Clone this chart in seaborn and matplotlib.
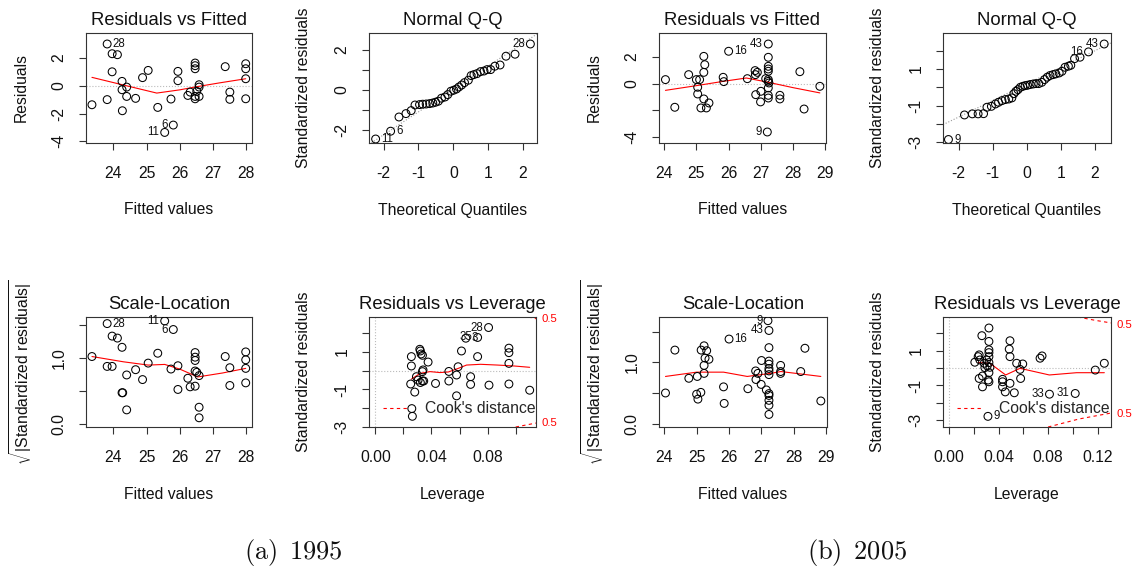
import matplotlib
matplotlib.use("Agg")
import matplotlib.pyplot as plt
import matplotlib.transforms as mtransforms
from matplotlib.lines import Line2D
import seaborn as sns

# ---------------- 1995 model ----------------
# Residuals vs Fitted
rf95_fitted = [23.35, 23.81, 23.81, 23.96, 23.96, 24.12, 24.26, 24.26, 24.27, 24.40, 24.40, 24.67, 24.88,
               25.05, 25.34, 25.55, 25.81, 25.74, 25.95, 25.95, 26.25, 26.32, 26.47, 26.47, 26.47, 26.47,
               26.47, 26.52, 26.59, 26.59, 26.59, 27.38, 27.52, 27.52, 28.00, 28.00, 28.00, 28.00]
rf95_resid = [-1.37, 3.00, -1.00, 2.30, 1.00, 2.23, 0.31, -0.29, -1.80, -0.10, -0.77, -0.91, 0.58,
              1.10, -1.56, -3.36, -2.83, -0.96, 1.03, 0.36, -0.70, -0.46, 1.63, 1.44, 1.22, -0.77,
              -0.94, -0.40, 0.07, -0.10, -0.77, 1.37, -0.46, -0.98, 1.58, 1.22, 0.50, -0.94]
rf95_smooth_x = [23.35, 24.3, 25.31, 26.0, 26.5, 27.2, 28.0]
rf95_smooth_y = [0.60, 0.05, -0.53, -0.30, -0.08, 0.20, 0.50]
rf95_labels = [("28", 23.81, 3.00, "r"), ("6", 25.81, -2.83, "l"), ("11", 25.55, -3.36, "l")]

# Normal Q-Q
qq95_theo = [-2.23, -1.80, -1.56, -1.36, -1.21, -1.10, -0.97, -0.88, -0.78, -0.68, -0.59, -0.51, -0.43,
             -0.34, -0.24, -0.16, -0.07, 0.01, 0.09, 0.16, 0.24, 0.32, 0.43, 0.51, 0.59, 0.68, 0.78,
             0.88, 0.97, 1.07, 1.19, 1.34, 1.51, 1.77, 2.21]
qq95_std = [-2.47, -2.08, -1.37, -1.20, -1.05, -0.77, -0.75, -0.73, -0.72, -0.70, -0.67, -0.63, -0.58,
            -0.43, -0.37, -0.25, -0.08, -0.03, 0.03, 0.13, 0.23, 0.35, 0.47, 0.70, 0.75, 0.80, 0.90,
            0.93, 1.00, 1.00, 1.17, 1.23, 1.67, 1.77, 2.28]
qq95_line_x = [-2.42, 2.40]
qq95_line_y = [-2.74, 2.78]
qq95_labels = [("11", -2.23, -2.47, "r"), ("6", -1.80, -2.08, "r"), ("28", 2.21, 2.28, "l")]

# Scale-Location
sl95_fitted = [23.35, 23.81, 23.81, 23.96, 23.96, 24.12, 24.26, 24.26, 24.28, 24.40, 24.40, 24.67, 24.88,
               25.05, 25.34, 25.55, 25.81, 25.74, 25.95, 25.95, 26.25, 26.32, 26.47, 26.47, 26.47, 26.47,
               26.47, 26.52, 26.59, 26.59, 26.59, 27.38, 27.52, 27.52, 28.00, 28.00, 28.00, 28.00]
sl95_sqrt = [1.02, 1.52, 0.87, 1.33, 0.87, 1.30, 1.16, 0.47, 0.47, 0.74, 0.21, 0.82, 0.67,
             0.92, 1.07, 1.56, 1.43, 0.83, 0.88, 0.52, 0.69, 0.56, 1.08, 1.01, 0.96, 0.80,
             0.57, 0.78, 0.73, 0.25, 0.09, 1.02, 0.85, 0.58, 1.09, 0.97, 0.84, 0.62]
sl95_smooth_x = [23.35, 24.3, 25.05, 25.55, 26.0, 26.55, 27.3, 28.0]
sl95_smooth_y = [1.02, 0.94, 0.89, 0.90, 0.83, 0.71, 0.77, 0.84]
sl95_labels = [("28", 23.81, 1.52, "r"), ("11", 25.55, 1.56, "l"), ("6", 25.81, 1.43, "l")]

# Residuals vs Leverage
rl95_lev = [0.0257, 0.0257, 0.0252, 0.0260, 0.0264, 0.0281, 0.0293, 0.0305, 0.0317, 0.0321, 0.0326,
            0.0336, 0.0321, 0.0336, 0.0340, 0.0345, 0.0336, 0.0376, 0.0429, 0.0524, 0.0524, 0.0579,
            0.0579, 0.0590, 0.0614, 0.0645, 0.0679, 0.0679, 0.0729, 0.0729, 0.0807, 0.0810, 0.0952,
            0.0952, 0.0952, 0.0952, 0.1100]
rl95_std = [0.75, 0.25, -0.71, -2.02, -2.43, -1.14, -0.32, -0.50, 1.14, 1.05, 0.89,
            0.82, -0.63, -0.55, 0.04, -0.55, -0.05, 0.46, -0.68, -0.04, -0.55, -0.23,
            -1.34, 0.21, 1.05, 1.73, -0.32, -0.73, 1.77, 0.75, 2.30, -0.77, 1.20,
            0.96, 0.39, -0.71, -1.04]
rl95_smooth_x = [0.0257, 0.0320, 0.0390, 0.0460, 0.0520, 0.0590, 0.0650, 0.0750, 0.0870, 0.0990, 0.1100]
rl95_smooth_y = [-0.45, -0.14, -0.05, -0.10, -0.07, 0.12, 0.30, 0.34, 0.30, 0.25, 0.18]
rl95_cook_top_x = [0.109, 0.1145]
rl95_cook_top_y = [2.86, 2.77]
rl95_cook_bot_x = [0.100, 0.1145]
rl95_cook_bot_y = [-3.00, -2.79]
rl95_cook_text_y = [2.77, -2.79]
rl95_labels = [("28", 0.0807, 2.30, "l"), ("35", 0.0729, 1.77, "l"), ("3", 0.0645, 1.73, "r")]

# ---------------- 2005 model ----------------
rf05_fitted = [24.04, 24.33, 24.76, 25.00, 25.10, 25.04, 25.04, 25.14, 25.23, 25.26, 25.23, 25.23,
               25.31, 25.39, 25.83, 25.85, 26.00, 26.58, 26.82, 26.89, 26.83, 26.84, 27.00, 26.99,
               27.15, 27.23, 27.23, 27.23, 27.23, 27.23, 27.23, 27.23, 27.25, 27.23, 27.23, 27.23,
               27.20, 27.59, 27.59, 28.21, 28.34, 28.83]
rf05_resid = [0.30, -1.76, 0.67, 0.30, 0.30, -0.27, -0.77, -1.81, 2.03, 1.41, 0.84, -1.14,
              -1.81, -1.44, 0.47, 0.15, 2.41, 0.37, 0.97, 0.84, 0.67, -0.82, -0.57, -1.36,
              0.37, 2.95, 1.96, 1.29, 1.09, 0.92, 0.30, 0.17, 0.05, -0.32, -0.87, -1.07,
              -3.60, -0.87, -1.14, 0.89, -1.89, -0.20]
rf05_smooth_x = [24.04, 25.0, 25.83, 26.55, 27.23, 28.0, 28.83]
rf05_smooth_y = [-0.50, -0.15, 0.17, 0.42, 0.10, -0.30, -0.69]
rf05_labels = [("16", 26.00, 2.41, "r"), ("43", 27.23, 2.95, "l"), ("9", 27.20, -3.60, "l")]

qq05_theo = [-2.30, -1.83, -1.60, -1.43, -1.27, -1.17, -1.04, -0.92, -0.83, -0.73, -0.63, -0.53, -0.44,
             -0.38, -0.32, -0.26, -0.19, -0.12, -0.05, 0.02, 0.10, 0.19, 0.27, 0.35, 0.44, 0.52,
             0.60, 0.68, 0.77, 0.85, 0.95, 1.03, 1.12, 1.22, 1.29, 1.40, 1.56, 1.81, 2.27]
qq05_std = [-2.85, -1.51, -1.45, -1.45, -1.44, -1.09, -1.04, -0.91, -0.82, -0.73, -0.67, -0.64, -0.58,
            -0.35, -0.22, -0.13, 0.00, 0.05, 0.09, 0.11, 0.15, 0.18, 0.20, 0.20, 0.27, 0.42,
            0.55, 0.64, 0.69, 0.73, 0.78, 0.87, 1.09, 1.15, 1.20, 1.56, 1.64, 1.93, 2.36]
qq05_line_x = [-2.46, 2.47]
qq05_line_y = [-2.04, 2.42]
qq05_labels = [("9", -2.30, -2.85, "r"), ("16", 1.81, 1.93, "l"), ("43", 2.27, 2.36, "l")]

sl05_fitted = [24.04, 24.33, 24.76, 25.02, 25.00, 25.04, 25.13, 25.14, 25.23, 25.31, 25.26, 25.38,
               25.23, 25.23, 25.83, 25.85, 26.00, 26.58, 26.82, 26.83, 26.89, 27.00, 26.99, 27.15,
               27.20, 27.23, 27.23, 27.23, 27.23, 27.23, 27.23, 27.23, 27.23, 27.23, 27.23, 27.23,
               27.23, 27.59, 27.59, 27.59, 28.21, 28.34, 28.83]
sl05_sqrt = [0.50, 1.20, 0.74, 0.77, 0.48, 0.40, 0.51, 1.20, 1.27, 1.19, 1.07, 1.05,
             0.95, 0.82, 0.60, 0.33, 1.38, 0.57, 0.86, 0.72, 0.82, 1.03, 0.64, 0.55,
             1.68, 1.52, 1.24, 1.02, 0.97, 0.90, 0.86, 0.80, 0.49, 0.46, 0.38, 0.30,
             0.15, 0.95, 0.85, 0.82, 0.85, 1.23, 0.37]
sl05_smooth_x = [24.04, 25.0, 25.83, 26.56, 27.28, 27.6, 28.83]
sl05_smooth_y = [0.77, 0.84, 0.84, 0.77, 0.82, 0.85, 0.77]
sl05_labels = [("9", 27.20, 1.68, "l"), ("43", 27.23, 1.52, "l"), ("16", 26.00, 1.38, "r")]

rl05_lev = [0.0208, 0.0235, 0.0243, 0.0249, 0.0243, 0.0265, 0.0270, 0.0270, 0.0284, 0.0289, 0.0303,
            0.0308, 0.0316, 0.0322, 0.0322, 0.0322, 0.0322, 0.0322, 0.0322, 0.0330, 0.0322, 0.0322,
            0.0314, 0.0432, 0.0432, 0.0432, 0.0454, 0.0492, 0.0486, 0.0492, 0.0492, 0.0527, 0.0546,
            0.0573, 0.0578, 0.0595, 0.0735, 0.0751, 0.0811, 0.1019, 0.1181, 0.1254]
rl05_std = [0.33, 0.65, 0.75, 0.46, -0.60, 1.85, -0.46, -1.08, 0.27, 0.02, 0.46,
            0.12, -0.69, 2.29, 1.52, 1.04, 0.88, 0.65, 0.31, 0.04, -0.27, -0.79,
            -2.77, -0.65, -0.79, -1.08, -1.37, 1.56, 1.08, 0.65, -0.88, -1.42, 0.27,
            -0.08, -0.60, 0.23, 0.56, 0.69, -1.50, -1.46, -0.12, 0.27]
rl05_smooth_x = [0.0235, 0.0330, 0.0457, 0.0573, 0.0810, 0.1030, 0.1254]
rl05_smooth_y = [0.31, 0.27, -0.40, -0.02, -0.40, -0.27, -0.27]
rl05_cook_top_x = [0.104, 0.118, 0.1308]
rl05_cook_top_y = [2.92, 2.73, 2.58]
rl05_cook_bot_x = [0.080, 0.105, 0.1308]
rl05_cook_bot_y = [-3.38, -2.92, -2.58]
rl05_cook_text_y = [2.48, -2.62]
rl05_labels = [("9", 0.0314, -2.77, "r"), ("33", 0.0811, -1.50, "l"), ("31", 0.1019, -1.46, "l")]

# ---------------- styling ----------------
sns.set_theme(style="ticks")
plt.rcParams["font.family"] = ["Liberation Sans", "DejaVu Sans"]
plt.rcParams["mathtext.fontset"] = "custom"
plt.rcParams["mathtext.rm"] = "Liberation Sans"
plt.rcParams["mathtext.it"] = "Liberation Sans:italic"

FW, FH = 1134, 579
EDGE = "#333333"
GREY = "#BBBBBB"
SQRT_LABEL = r"$\sqrt{|\mathrm{Standardized\ residuals}|}$"

fig = plt.figure(figsize=(FW / 100, FH / 100), dpi=100)


def make_ax(x0, y0, x1, y1):
    return fig.add_axes([x0 / FW, 1 - y1 / FH, (x1 - x0) / FW, (y1 - y0) / FH])


def dress(ax, xlim, ylim, xt, xtl, yt, ytl, title, xlabel, ylabel):
    ax.set_xlim(xlim)
    ax.set_ylim(ylim)
    ax.set_xticks(xt, xtl)
    ax.set_yticks(yt, ytl)
    ax.tick_params(direction="out", length=5, width=0.8, color=EDGE, labelsize=11.3,
                   labelcolor="#111111")
    ax.tick_params(axis="x", pad=11.5)
    ax.tick_params(axis="y", pad=9, labelrotation=90)
    for lab in ax.get_yticklabels():
        lab.set_va("center")
    for sp in ax.spines.values():
        sp.set_visible(True)
        sp.set_color(EDGE)
        sp.set_linewidth(0.8)
    ax.set_title(title, fontsize=13.3, y=1.075, pad=0, va="baseline", color="#111111")
    ax.set_xlabel(xlabel, fontsize=11.3, va="baseline", color="#111111")
    ax.xaxis.set_label_coords(0.5, -0.65)
    ax.set_ylabel(ylabel, fontsize=11.3, va="center", color="#111111")
    ax.yaxis.set_label_coords(-0.39, 0.5)


def points(ax, x, y):
    sns.scatterplot(x=x, y=y, ax=ax, marker="o", s=32, facecolor="none",
                    edgecolor="black", linewidth=0.75, legend=False, zorder=3)


def curve(ax, x, y, color="red", ls="-"):
    sns.lineplot(x=x, y=y, ax=ax, color=color, linewidth=0.8, linestyle=ls,
                 sort=False, estimator=None, legend=False)


def id_labels(ax, labels):
    for txt, x, y, side in labels:
        dx, ha = (4, "left") if side == "r" else (-4, "right")
        ax.annotate(txt, (x, y), xytext=(dx, 0), textcoords="offset points",
                    ha=ha, va="center", fontsize=8.3, color="#111111")


def cook(ax, tx, ty, bx, by, text_y):
    dash = (0, (3, 3))
    curve(ax, tx, ty, ls=dash)
    curve(ax, bx, by, ls=dash)
    tr = mtransforms.blended_transform_factory(ax.transAxes, ax.transData)
    for yy in text_y:
        ax.text(1.03, yy, "0.5", transform=tr, color="red", fontsize=8.2,
                ha="left", va="center", clip_on=False)
    handle = Line2D([], [], color="red", linewidth=0.8, linestyle=dash)
    ax.legend([handle], ["Cook's distance"], loc="center left", bbox_to_anchor=(0.084, 0.165),
              frameon=False, fontsize=11.3, handlelength=1.5, handletextpad=1.2,
              borderpad=0, borderaxespad=0)


# ---- (a) 1995 ----
ax = make_ax(86, 33, 252, 143)
ax.axhline(0, color=GREY, ls=":", lw=0.8)
points(ax, rf95_fitted, rf95_resid)
curve(ax, rf95_smooth_x, rf95_smooth_y)
id_labels(ax, rf95_labels)
dress(ax, (23.17, 28.19), (-4.12, 3.79), [24, 25, 26, 27, 28], ["24", "25", "26", "27", "28"],
      [-4, -2, 0, 2], ["-4", "-2", "0", "2"], "Residuals vs Fitted", "Fitted values", "Residuals")

ax = make_ax(369, 33, 537, 143)
curve(ax, qq95_line_x, qq95_line_y, color="#999999", ls=":")
points(ax, qq95_theo, qq95_std)
id_labels(ax, qq95_labels)
dress(ax, (-2.42, 2.40), (-2.67, 2.83), [-2, -1, 0, 1, 2], ["-2", "-1", "0", "1", "2"],
      [-2, -1, 0, 1, 2], ["-2", "", "0", "", "2"], "Normal Q-Q", "Theoretical Quantiles",
      "Standardized residuals")

ax = make_ax(86, 317, 252, 427)
points(ax, sl95_fitted, sl95_sqrt)
curve(ax, sl95_smooth_x, sl95_smooth_y)
id_labels(ax, sl95_labels)
dress(ax, (23.17, 28.19), (-0.05, 1.62), [24, 25, 26, 27, 28], ["24", "25", "26", "27", "28"],
      [0, 0.5, 1.0, 1.5], ["0.0", "", "1.0", ""], "Scale-Location", "Fitted values", SQRT_LABEL)

ax = make_ax(369, 317, 536, 427)
ax.axhline(0, color=GREY, ls=":", lw=0.8)
ax.axvline(0, color=GREY, ls=":", lw=0.8)
points(ax, rl95_lev, rl95_std)
curve(ax, rl95_smooth_x, rl95_smooth_y)
id_labels(ax, rl95_labels)
cook(ax, rl95_cook_top_x, rl95_cook_top_y, rl95_cook_bot_x, rl95_cook_bot_y, rl95_cook_text_y)
dress(ax, (-0.0045, 0.1145), (-3.0, 2.86), [0, 0.02, 0.04, 0.06, 0.08, 0.10],
      ["0.00", "", "0.04", "", "0.08", ""], [-3, -2, -1, 0, 1, 2], ["-3", "", "-1", "", "1", ""],
      "Residuals vs Leverage", "Leverage", "Standardized residuals")

# ---- (b) 2005 ----
ax = make_ax(659, 33, 826, 143)
ax.axhline(0, color=GREY, ls=":", lw=0.8)
points(ax, rf05_fitted, rf05_resid)
curve(ax, rf05_smooth_x, rf05_smooth_y)
id_labels(ax, rf05_labels)
dress(ax, (23.84, 29.02), (-4.42, 3.77), [24, 25, 26, 27, 28, 29],
      ["24", "25", "26", "27", "28", "29"], [-4, -2, 0, 2], ["-4", "", "0", "2"],
      "Residuals vs Fitted", "Fitted values", "Residuals")

ax = make_ax(943, 33, 1111, 143)
curve(ax, qq05_line_x, qq05_line_y, color="#999999", ls=":")
points(ax, qq05_theo, qq05_std)
id_labels(ax, qq05_labels)
dress(ax, (-2.46, 2.47), (-3.04, 2.96), [-2, -1, 0, 1, 2], ["-2", "-1", "0", "1", "2"],
      [-3, -2, -1, 0, 1, 2], ["-3", "", "-1", "", "1", ""], "Normal Q-Q", "Theoretical Quantiles",
      "Standardized residuals")

ax = make_ax(659, 317, 827, 427)
points(ax, sl05_fitted, sl05_sqrt)
curve(ax, sl05_smooth_x, sl05_smooth_y)
id_labels(ax, sl05_labels)
dress(ax, (23.84, 29.02), (-0.055, 1.74), [24, 25, 26, 27, 28, 29],
      ["24", "25", "26", "27", "28", "29"], [0, 0.5, 1.0, 1.5], ["0.0", "", "1.0", ""],
      "Scale-Location", "Fitted values", SQRT_LABEL)

ax = make_ax(943, 317, 1111, 427)
ax.axhline(0, color=GREY, ls=":", lw=0.8)
ax.axvline(0, color=GREY, ls=":", lw=0.8)
points(ax, rl05_lev, rl05_std)
curve(ax, rl05_smooth_x, rl05_smooth_y)
id_labels(ax, rl05_labels)
cook(ax, rl05_cook_top_x, rl05_cook_top_y, rl05_cook_bot_x, rl05_cook_bot_y, rl05_cook_text_y)
dress(ax, (-0.0049, 0.1308), (-3.38, 2.92), [0, 0.02, 0.04, 0.06, 0.08, 0.10, 0.12],
      ["0.00", "", "0.04", "", "0.08", "", "0.12"], [-3, -2, -1, 0, 1, 2],
      ["-3", "", "-1", "", "1", ""], "Residuals vs Leverage", "Leverage", "Standardized residuals")

# sub-figure captions
for cx, cap in [(293, r"$\mathrm{(a)\ \,1995}$"), (857, r"$\mathrm{(b)\ \,2005}$")]:
    fig.text(cx / FW, 1 - 553 / FH, cap, ha="center", va="center", fontsize=19,
             math_fontfamily="cm", color="#111111")

fig.savefig("out.png", dpi=100, facecolor="white")
